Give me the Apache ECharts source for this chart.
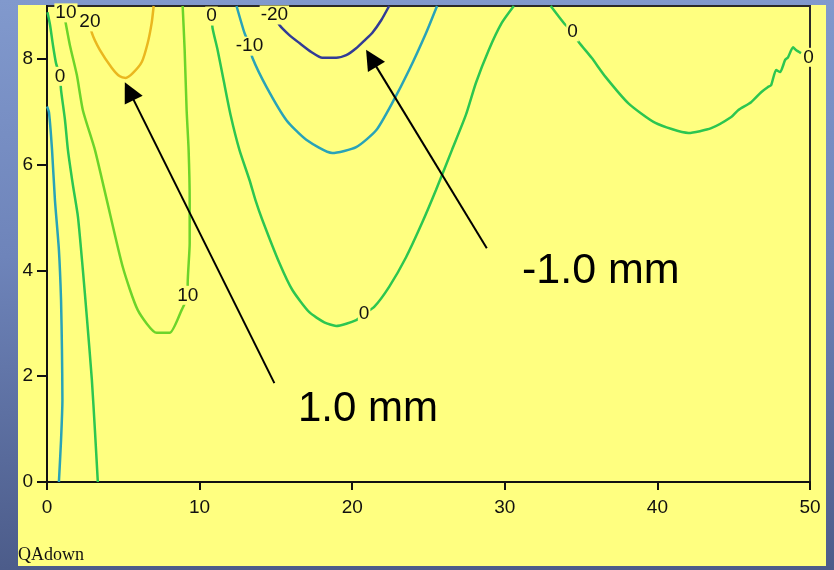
<!DOCTYPE html>
<html>
<head>
<meta charset="utf-8">
<script src="https://cdn.jsdelivr.net/npm/echarts@6/dist/echarts.min.js"></script>
<style>
  html, body { margin: 0; padding: 0; }
  #chart {
    width: 834px; height: 570px;
    background: linear-gradient(180deg, #8199cd 0%, #6e84ba 45%, #4c5c8a 100%);
  }
</style>
</head>
<body>
<div id="chart"></div>
<script>
// Axis ticks
const xTickValues = [0, 10, 20, 30, 40, 50];
const yTickValues = [0, 2, 4, 6, 8];

// Contour traces, [x, y] in axis units
const level20 = [
  [2.75, 8.80], [2.94, 8.49], [3.46, 8.17], [4.25, 7.83], [4.77, 7.67], [5.16, 7.64],
  [5.62, 7.73], [6.21, 7.94], [6.60, 8.30], [6.86, 8.68], [6.99, 9.0]
];
const level10 = [
  [1.18, 8.75], [1.50, 8.26], [1.96, 7.69], [2.35, 7.03], [3.14, 6.28], [3.92, 5.33],
  [4.97, 4.06], [5.95, 3.25], [7.19, 2.82], [8.04, 2.82], [8.82, 3.25], [9.22, 3.53],
  [9.22, 3.76], [9.35, 4.52], [9.35, 5.33], [9.28, 6.28], [9.15, 7.03], [9.02, 8.17], [8.89, 9.0]
];
const level0Left = [
  [0.03, 8.88], [0.20, 8.64], [0.39, 8.26], [0.59, 7.92], [0.85, 7.67], [0.92, 7.41],
  [1.18, 6.84], [1.37, 6.28], [1.70, 5.61], [2.03, 5.01], [2.35, 4.01], [2.61, 3.12],
  [2.94, 1.93], [3.14, 0.98], [3.33, 0]
];
const level0Mid = [
  [10.78, 8.85], [10.85, 8.58], [11.18, 8.17], [11.57, 7.60], [12.03, 6.94], [12.61, 6.28],
  [13.27, 5.71], [13.66, 5.33], [14.12, 4.95], [15.23, 4.14], [16.08, 3.63], [17.19, 3.21],
  [18.17, 3.02], [18.95, 2.95], [20.26, 3.06], [20.78, 3.18], [21.44, 3.31], [22.42, 3.69],
  [23.53, 4.25], [24.58, 4.90], [25.49, 5.52], [26.54, 6.28], [27.45, 6.94], [28.10, 7.54],
  [28.95, 8.17], [29.80, 8.68], [30.59, 9.0]
];
const level0Right = [
  [33.01, 9.0], [33.92, 8.66], [34.44, 8.51], [34.84, 8.32], [35.69, 8.02], [36.60, 7.66],
  [38.10, 7.16], [39.87, 6.79], [42.03, 6.60], [43.53, 6.69], [44.84, 6.90], [45.29, 7.03],
  [46.14, 7.18], [46.80, 7.37], [47.25, 7.47], [47.45, 7.50], [47.78, 7.79], [48.04, 7.75],
  [48.37, 7.98], [48.56, 8.03], [48.89, 8.22], [49.08, 8.17], [49.41, 8.11]
];
const levelM10Left = [
  [0.0, 7.10], [0.13, 6.99], [0.33, 6.28], [0.52, 5.33], [0.78, 4.39], [0.92, 3.44],
  [0.98, 2.50], [1.01, 1.55], [0.92, 0.79], [0.78, 0]
];
const levelM10Mid = [
  [12.42, 9.0], [12.94, 8.49], [13.27, 8.26], [13.46, 8.02], [14.38, 7.47], [15.69, 6.84],
  [16.99, 6.47], [18.69, 6.22], [20.26, 6.33], [21.57, 6.65], [22.61, 7.16], [23.73, 7.79],
  [24.84, 8.49], [25.56, 9.0]
];
const levelM20 = [
  [14.90, 8.83], [15.23, 8.64], [15.88, 8.45], [16.54, 8.30], [17.32, 8.13], [18.04, 8.02],
  [18.95, 8.02], [19.61, 8.07], [20.26, 8.20], [20.85, 8.36], [21.31, 8.49], [21.90, 8.73], [22.42, 9.0]
];

// Contour level labels: [x, y, text]
const levelLabels = [
  [1.24, 8.87, '10'], [2.81, 8.70, '20'], [0.85, 7.67, '0'], [9.22, 3.53, '10'],
  [10.78, 8.81, '0'], [13.27, 8.24, '-10'], [14.90, 8.83, '-20'], [20.78, 3.18, '0'],
  [34.44, 8.51, '0'], [49.90, 8.03, '0']
];

// Annotation arrows: [tailX, tailY, headX, headY]
const arrows = [
  [14.90, 1.87, 5.39, 7.39],
  [28.82, 4.42, 21.25, 8.01]
];

const colors = {
  p20: '#eab71f',
  p10: '#6cd42a',
  z0: '#2cc650',
  m10: '#29a3b8',
  m20: '#323c96'
};

function contour(data, color) {
  return {
    type: 'line', data: data, symbol: 'none', showSymbol: false, smooth: 0.2,
    clip: true, silent: true, z: 2,
    lineStyle: { color: color, width: 2.5 }
  };
}

const chart = echarts.init(document.getElementById('chart'), null, { renderer: 'canvas' });

chart.setOption({
  animation: false,
  backgroundColor: 'transparent',
  grid: {
    left: 47, right: 24, top: 6, bottom: 88,
    show: true, borderColor: '#2a2a2a', borderWidth: 2, backgroundColor: 'transparent'
  },
  xAxis: {
    type: 'value', min: 0, max: 50,
    axisLine: { show: true, onZero: false, lineStyle: { color: '#111', width: 2 } },
    axisTick: { show: true, length: 8, customValues: xTickValues, lineStyle: { color: '#111', width: 2 } },
    axisLabel: { customValues: xTickValues, color: '#111', fontSize: 19, fontFamily: 'Liberation Sans', margin: 16 },
    splitLine: { show: false }
  },
  yAxis: {
    type: 'value', min: 0, max: 9,
    axisLine: { show: true, onZero: false, lineStyle: { color: '#111', width: 2 } },
    axisTick: { show: true, length: 10, customValues: yTickValues, lineStyle: { color: '#111', width: 2 } },
    axisLabel: { customValues: yTickValues, color: '#111', fontSize: 19, fontFamily: 'Liberation Sans', margin: 14 },
    splitLine: { show: false }
  },
  graphic: [
    { type: 'rect', z: -10, silent: true, shape: { x: 18, y: 5, width: 808, height: 561 }, style: { fill: '#ffff80' } },
    { type: 'text', z: 100, x: 18, y: 555, style: { text: 'QAdown', fontSize: 18, fontFamily: 'Liberation Serif', fill: '#111', verticalAlign: 'middle' } },
    { type: 'text', z: 100, x: 298, y: 409, style: { text: '1.0 mm', fontSize: 42, fontFamily: 'Liberation Sans', fill: '#000', verticalAlign: 'middle' } },
    { type: 'text', z: 100, x: 522, y: 271, style: { text: '-1.0 mm', fontSize: 43, fontFamily: 'Liberation Sans', fill: '#000', verticalAlign: 'middle' } }
  ],
  series: [
    contour(levelM10Left, colors.m10),
    contour(level0Left, colors.z0),
    contour(level10, colors.p10),
    contour(level20, colors.p20),
    contour(level0Mid, colors.z0),
    contour(level0Right, colors.z0),
    contour(levelM10Mid, colors.m10),
    contour(levelM20, colors.m20),
    {
      type: 'scatter', symbolSize: 0, silent: true, z: 5,
      itemStyle: { opacity: 1 },
      data: levelLabels.map(d => ({ value: [d[0], d[1]], name: d[2] })),
      label: {
        show: true, position: 'inside', formatter: p => p.name, opacity: 1,
        color: '#111', fontSize: 19, fontFamily: 'Liberation Sans',
        backgroundColor: '#ffff80', padding: [0, 1]
      }
    },
    {
      type: 'lines', coordinateSystem: 'cartesian2d', silent: true, z: 6,
      symbol: ['none', 'triangle'], symbolSize: 20,
      lineStyle: { color: '#000', width: 2, opacity: 1, curveness: 0 },
      data: arrows.map(a => ({ coords: [[a[0], a[1]], [a[2], a[3]]] }))
    }
  ]
});
</script>
</body>
</html>
